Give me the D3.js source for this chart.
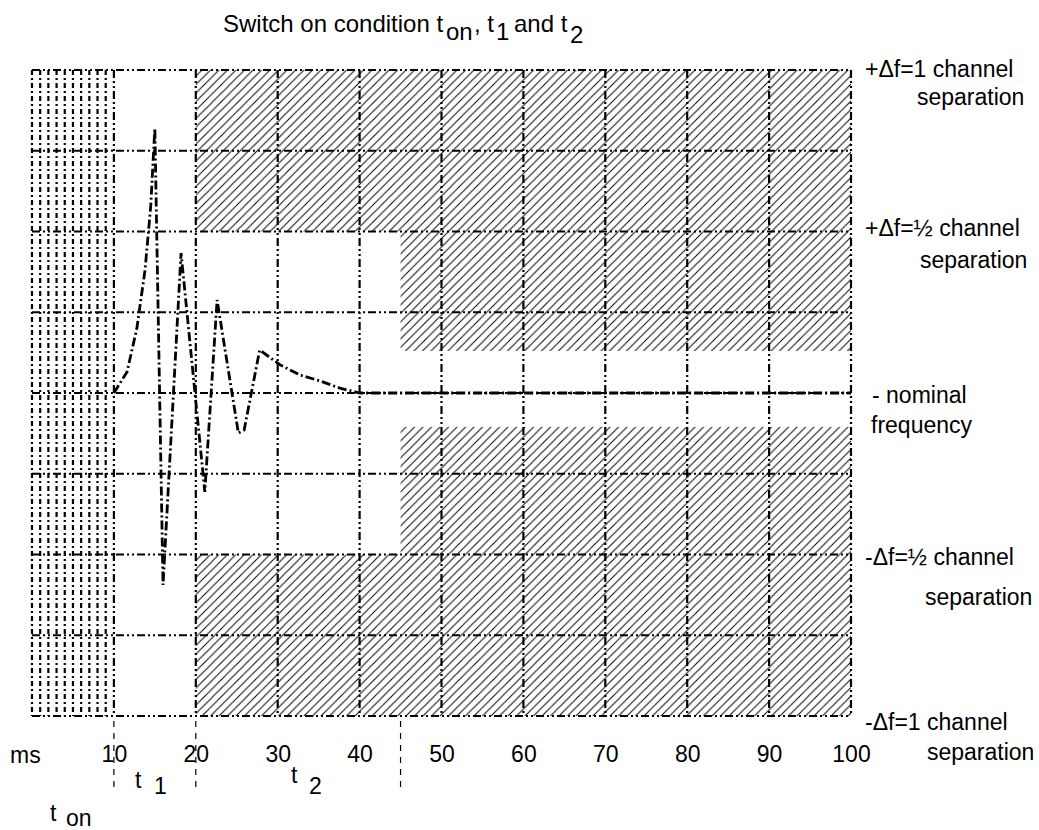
<!DOCTYPE html>
<html><head><meta charset="utf-8">
<script src="https://cdn.jsdelivr.net/npm/d3@7"></script>
<style>
body{margin:0;background:#fff;}
text{font-family:Arial,"Liberation Sans",sans-serif;fill:#000;}
</style></head>
<body><svg id="c" width="1039" height="830"></svg>
<script>
// ---- data ----
const xTicks = [10,20,30,40,50,60,70,80,90,100];
const yGrid = [-1,-0.75,-0.5,-0.25,0,0.25,0.5,0.75,1];
const xGrid = [10,20,30,40,50,60,70,80,90,100];
const denseGrid = [0,1,2,3,4,5,6,7,8,9];
const curveMs  = [10, 11.6, 12.8, 13.8, 14.5, 15.0, 16.0, 18.2, 21.1, 22.6, 25.2, 25.9, 27.8, 30.3, 32.7, 35.2, 37.6, 40, 100];
const curveVal = [0, 0.065, 0.2, 0.38, 0.58, 0.82, -0.594, 0.433, -0.306, 0.288, -0.124, -0.115, 0.133, 0.087, 0.056, 0.037, 0.015, 0, 0];
const hatchX0 = [20, 45, 45, 20];
const hatchX1 = [100, 100, 100, 100];
const hatchV0 = [0.5, 0.13, -0.5, -1];
const hatchV1 = [1, 0.5, -0.105, -0.5];
const markerMs = [10, 20, 45];
const rightLabels = ["+\u0394f=1 channel","separation","+\u0394f=\u00bd channel","separation","- nominal","frequency","-\u0394f=\u00bd channel","separation","-\u0394f=1 channel","separation"];
const rightLabelVals = [1,1,0.5,0.5,0,0,-0.5,-0.5,-1,-1];

// ---- scales ----
const svg = d3.select("#c");
const x = d3.scaleLinear().domain([0,100]).range([32,851]);
const y = d3.scaleLinear().domain([-1,1]).range([716,70]);
const FS = 23;
const TFS = 24;

// hatch pattern
const defs = svg.append("defs");
const pat = defs.append("pattern").attr("id","hatch").attr("patternUnits","userSpaceOnUse")
  .attr("width",8.5).attr("height",8.5);
pat.append("path").attr("d","M-2,2 L2,-2 M0,8.5 L8.5,0 M6.5,10.5 L10.5,6.5")
  .attr("stroke","#000").attr("stroke-width",1);

svg.selectAll("rect.hatch").data(hatchX0).enter().append("rect")
  .attr("x",(d,i)=>x(d)).attr("width",(d,i)=>x(hatchX1[i])-x(d))
  .attr("y",(d,i)=>y(hatchV1[i])).attr("height",(d,i)=>y(hatchV0[i])-y(hatchV1[i]))
  .attr("fill","url(#hatch)");

// grid
const gridDash = "8,3,2,3,2,3";
svg.selectAll("line.dg").data(denseGrid).enter().append("line")
  .attr("x1",d=>x(d)).attr("x2",d=>x(d)).attr("y1",y(1)).attr("y2",y(-1))
  .attr("stroke","#000").attr("stroke-width",2.2).attr("stroke-dasharray","5,3,2,3");
svg.selectAll("line.hg").data(yGrid).enter().append("line")
  .attr("x1",x(0)).attr("x2",x(100)).attr("y1",d=>y(d)).attr("y2",d=>y(d))
  .attr("stroke","#000").attr("stroke-width",2.2).attr("stroke-dasharray",gridDash);
svg.selectAll("line.vg").data(xGrid).enter().append("line")
  .attr("x1",d=>x(d)).attr("x2",d=>x(d)).attr("y1",y(1)).attr("y2",y(-1))
  .attr("stroke","#000").attr("stroke-width",2.2).attr("stroke-dasharray",gridDash);

// curve
const line = d3.line().x(d=>x(d[0])).y(d=>y(d[1]));
svg.append("path").datum(curveMs.map((m,i)=>[m,curveVal[i]]))
  .attr("d",line).attr("fill","none").attr("stroke","#000").attr("stroke-width",2.8)
  .attr("stroke-dasharray","9,3,2,3");

// markers below axis
svg.selectAll("line.mk").data(markerMs).enter().append("line")
  .attr("x1",d=>x(d)).attr("x2",d=>x(d)).attr("y1",y(-1)+5).attr("y2",y(-1)+75)
  .attr("stroke","#000").attr("stroke-width",1.2).attr("stroke-dasharray","6,6");

// x axis labels
const ax = d3.axisBottom(x).tickValues(xTicks).tickSize(0).tickPadding(30).tickFormat(d3.format("d"));
const g = svg.append("g").attr("transform",`translate(0,${y(-1)})`).call(ax);
g.select(".domain").remove();
g.selectAll("text").style("font-size",FS+"px").style("font-family","Arial, 'Liberation Sans', sans-serif").attr("fill","#000");

svg.append("text").attr("x",10).attr("y",763).style("font-size",FS+"px").text("ms");
// t labels
function sub(xm, ym, xs, ys, main, s, fs){
  svg.append("text").attr("x",xm).attr("y",ym).style("font-size",fs+"px").text(main);
  svg.append("text").attr("x",xs).attr("y",ys).style("font-size",fs+"px").text(s);
}
sub(135,788,154,794,"t","1",FS);
sub(291,783,309,794,"t","2",FS);
sub(50,821,66,826,"t","on",FS);

// title
sub(223,32,446,40,"Switch on condition t","on",TFS);
sub(474,32,496,40,", t","1",TFS);
sub(514,32,570,43,"and t","2",TFS);

// right labels
const rlx = [865,917,865,920,872,871,865,925,865,927];
const rdy = [7,35,4,36,10,40,10,50,14,44];
svg.selectAll("text.rl").data(rightLabels).enter().append("text")
  .attr("x",(d,i)=>rlx[i]).attr("y",(d,i)=>y(rightLabelVals[i])+rdy[i])
  .style("font-size",FS+"px").text(d=>d);
</script></body></html>
